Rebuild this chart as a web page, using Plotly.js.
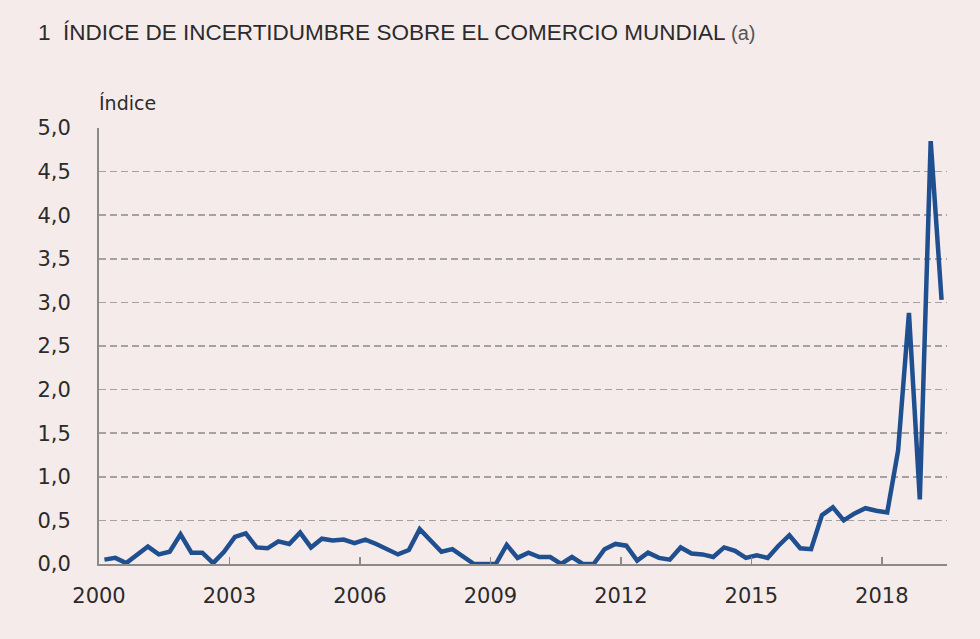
<!DOCTYPE html>
<html>
<head>
<meta charset="utf-8">
<script src="https://cdn.plot.ly/plotly-3.0.1.min.js"></script>
<style>
  html, body { margin: 0; padding: 0; background: #f6ebeb; }
  #plotdiv { width: 980px; height: 639px; }
</style>
</head>
<body>
<div id="plotdiv"></div>
<script>
// quarterly index, 2000 Q1 to 2019 Q2
var years = [];
for (var y = 2000; y <= 2019; ++y) years.push(y);
var quarters = [1, 2, 3, 4];

var indice = [
    0.05, 0.07, 0.01, 0.11, 0.20, 0.11, 0.14, 0.34,
    0.13, 0.13, 0.01, 0.14, 0.31, 0.35, 0.19, 0.18,
    0.26, 0.23, 0.36, 0.19, 0.29, 0.27, 0.28, 0.24,
    0.28, 0.23, 0.17, 0.11, 0.16, 0.40, 0.27, 0.14,
    0.17, 0.08, 0.00, 0.00, 0.00, 0.22, 0.07, 0.13,
    0.08, 0.08, 0.00, 0.08, 0.00, 0.00, 0.17, 0.23,
    0.21, 0.04, 0.13, 0.07, 0.05, 0.19, 0.12, 0.11,
    0.08, 0.19, 0.15, 0.07, 0.10, 0.07, 0.21, 0.33,
    0.18, 0.17, 0.56, 0.65, 0.50, 0.58, 0.64, 0.61,
    0.59, 1.30, 2.88, 0.74, 4.85, 3.03
];

var tickYears = [2000, 2003, 2006, 2009, 2012, 2015, 2018];

// each quarter placed at its middle
var xs = [];
for (var i = 0; i < indice.length; ++i) {
    var yr = years[Math.floor(i / 4)];
    var q = quarters[i % 4];
    xs.push(yr + (q - 0.5) / 4);
}

var data = [{
    x: xs,
    y: indice,
    mode: 'lines',
    type: 'scatter',
    line: { color: '#1f4f8f', width: 4.5 },
    cliponaxis: false,
    hoverinfo: 'skip'
}];

var font = 'DejaVu Sans, sans-serif';
var titleFont = 'Liberation Sans, Arial, sans-serif';

var layout = {
    width: 980,
    height: 639,
    paper_bgcolor: '#f6ebeb',
    plot_bgcolor: '#f6ebeb',
    separators: ',.',
    showlegend: false,
    margin: { l: 99, r: 33, t: 128, b: 75 },
    font: { family: font, color: '#2b2b2b' },
    xaxis: {
        range: [2000, 2019.5],
        tickvals: tickYears,
        ticktext: tickYears.map(String),
        ticks: 'inside',
        ticklen: 7,
        tickcolor: '#8a8a8a',
        tickwidth: 1.5,
        showgrid: false,
        zeroline: false,
        showline: true,
        linecolor: '#8a8a8a',
        linewidth: 2,
        ticklabelstandoff: 12,
        tickfont: { size: 21, color: '#2b2b2b' }
    },
    yaxis: {
        range: [0, 5],
        dtick: 0.5,
        tick0: 0,
        tickformat: '.1f',
        showgrid: true,
        gridcolor: '#a5a1a3',
        gridwidth: 1.5,
        griddash: '7px,4px',
        zeroline: false,
        showline: true,
        linecolor: '#8a8a8a',
        linewidth: 2,
        ticks: '',
        ticklabelstandoff: 22,
        tickfont: { size: 21, color: '#2b2b2b' }
    },
    annotations: [
        {
            text: '1  ÍNDICE DE INCERTIDUMBRE SOBRE EL COMERCIO MUNDIAL <span style="font-size:20px;color:#555">(a)</span>',
            xref: 'paper', yref: 'paper',
            x: -65 / 880, y: 1 + 96 / 436,
            xanchor: 'left', yanchor: 'middle',
            showarrow: false,
            font: { family: titleFont, size: 22.5, color: '#2b2b2b' }
        },
        {
            text: 'Índice',
            xref: 'paper', yref: 'paper',
            x: -2 / 880, y: 1 + 25 / 436,
            xanchor: 'left', yanchor: 'middle',
            showarrow: false,
            font: { size: 19, color: '#2b2b2b' }
        }
    ]
};

Plotly.newPlot('plotdiv', data, layout, { displayModeBar: false, staticPlot: true });
</script>
</body>
</html>
